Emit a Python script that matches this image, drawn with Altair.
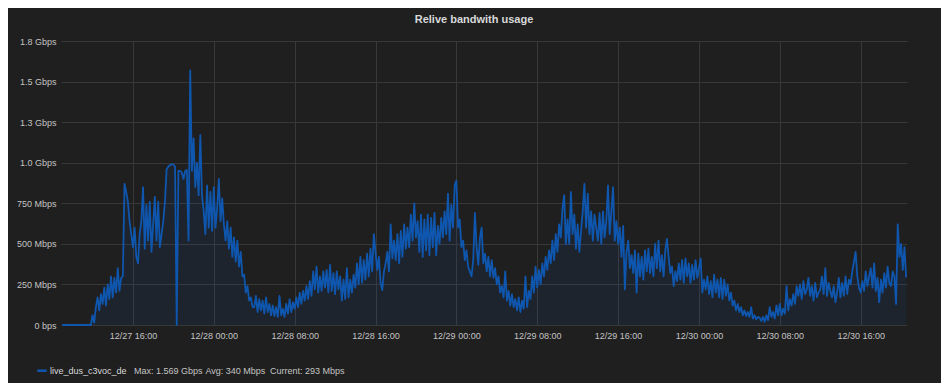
import altair as alt
import pandas as pd

# ---------------- data (Mbps, one value every 10 minutes) ----------------
series_name = "live_dus_c3voc_de"
series_start = "2016-12-27 09:00"
series_step = "10min"

day27 = [  # 09:00 .. 23:50
    0, 0, 0, 0, 0, 0,
    0, 0, 0, 0, 0, 0,
    0, 0, 0, 0, 0, 0,
    60, 15, 110, 170, 90, 190,
    130, 230, 120, 250, 160, 300,
    170, 290, 200, 350, 210, 290,
    300, 870, 820, 760, 640, 560,
    480, 600, 420, 380, 560, 640,
    850, 470, 740, 520, 760, 450,
    620, 790, 520, 760, 480, 560,
    640, 760, 960, 975, 985, 990,
    990, 975, 0, 950, 950, 940,
    900, 950, 955, 520, 1569, 950,
    1150, 850, 1000, 800, 1170, 800,
    700, 560, 860, 600, 820, 580,
]
day28 = [
    850, 600, 720, 900, 640, 780,
    620, 520, 640, 470, 600, 420,
    540, 390, 520, 360, 450, 300,
    310, 200, 240, 150, 170, 110,
    110, 180, 80, 160, 90, 150,
    70, 170, 80, 130, 60, 120,
    55, 110, 50, 180, 60, 100,
    50, 130, 70, 160, 80, 140,
    100, 170, 110, 200, 130, 210,
    150, 240, 160, 270, 180, 330,
    220, 360, 200, 300, 210, 330,
    230, 340, 200, 370, 210, 320,
    190, 330, 220, 300, 150, 280,
    160, 350, 170, 280, 200, 310,
    230, 380, 250, 420, 260, 400,
    280, 440, 300, 470, 330, 560,
    450, 340, 420, 260, 215, 330,
    380, 450, 330, 620, 410, 520,
    400, 560, 380, 580, 420, 620,
    470, 600, 480, 680, 520, 750,
    540, 640, 450, 680, 420, 650,
    460, 680, 430, 660, 480, 690,
    430, 610, 500, 660, 540, 700,
    560, 810, 520, 740, 600, 860,
]
day29 = [
    890, 600, 650, 480, 520, 400,
    460, 360, 330, 300, 400, 690,
    480, 370, 540, 600, 380, 440,
    330, 420, 300, 400, 290, 350,
    250, 300, 200, 240, 170, 330,
    150, 210, 120, 190, 110, 160,
    90, 170, 80, 150, 100, 300,
    110, 210, 160, 300, 200, 360,
    230, 340, 250, 380, 300, 420,
    340, 460, 380, 520, 400, 560,
    450, 620, 540, 720, 800, 500,
    650, 500, 820, 560, 680, 470,
    620, 450, 580, 700, 870, 600,
    810, 560, 700, 520, 680, 600,
    520, 690, 500, 700, 540, 640,
    860, 560, 700, 850, 520, 640,
    500, 600, 420, 610, 220, 450,
    520, 350, 430, 320, 460, 200,
    440, 300, 420, 280, 460, 330,
    470, 320, 420, 300, 500, 350,
    520, 330, 430, 300, 460, 530,
    420, 320, 360, 240, 330, 270,
    380, 280, 400, 260, 410, 300,
    380, 260, 370, 280, 400, 290,
]
day30 = [  # 00:00 .. 20:30
    350, 410, 200, 280, 220, 300,
    190, 270, 170, 310, 200, 280,
    170, 290, 160, 280, 180, 250,
    150, 200, 120, 150, 90, 130,
    80, 110, 60, 90, 55, 80,
    50, 110, 40, 60, 35, 50,
    45, 25, 50, 20, 60, 30,
    110, 50, 80, 40, 120, 60,
    130, 60, 100, 70, 240, 90,
    160, 120, 190, 130, 240, 180,
    250, 160, 270, 190, 220, 290,
    180, 240, 150, 260, 170, 200,
    220, 300, 190, 350, 180, 260,
    210, 170, 240, 140, 200, 290,
    170, 260, 180, 300, 190, 280,
    250, 330, 390, 450, 300, 230,
    200, 270, 210, 330, 240, 300,
    350, 230, 380, 210, 290, 140,
    280, 200, 320, 230, 360, 260,
    240, 330, 300, 130, 620, 420,
    500, 340, 480, 293,
]

legend_stats = ["Max: 1.569 Gbps", "Avg: 340 Mbps", "Current: 293 Mbps"]
chart_title = "Relive bandwith usage"

y_ticks = [0, 250, 500, 750, 1000, 1250, 1500, 1750]
y_labels = ["0 bps", "250 Mbps", "500 Mbps", "750 Mbps",
            "1.0 Gbps", "1.3 Gbps", "1.5 Gbps", "1.8 Gbps"]
x_ticks = ["2016-12-27 16:00", "2016-12-28 00:00", "2016-12-28 08:00",
           "2016-12-28 16:00", "2016-12-29 00:00", "2016-12-29 08:00",
           "2016-12-29 16:00", "2016-12-30 00:00", "2016-12-30 08:00",
           "2016-12-30 16:00"]
x_domain = ["2016-12-27 08:53", "2016-12-30 20:35"]

# ---------------- build ----------------
values = day27 + day28 + day29 + day30
df = pd.DataFrame({
    "time": pd.date_range(series_start, periods=len(values), freq=series_step),
    "mbps": values,
})


def dt(s):
    t = pd.Timestamp(s)
    return alt.DateTime(year=t.year, month=t.month, date=t.day,
                        hours=t.hour, minutes=t.minute)


BLUE = "#0f56ae"
BG = "#1f1f1f"
GRID = "#383838"
LABEL = "#c4c4c4"
TEXT = "#d8d9da"
FONT = "Liberation Sans"

y_label_expr = " : ".join(
    f"datum.value == {v} ? '{l}'" for v, l in zip(y_ticks, y_labels)
) + " : ''"

x_enc = alt.X(
    "time:T",
    scale=alt.Scale(domain=[dt(s) for s in x_domain], nice=False),
    axis=alt.Axis(
        values=[dt(s) for s in x_ticks], format="%m/%d %H:%M", title=None,
        grid=True, gridColor=GRID, gridWidth=1, domain=False, ticks=False,
        labelColor=LABEL, labelFont=FONT, labelFontSize=9, labelPadding=6,
        labelFlush=False, labelOverlap=False,
    ),
)
y_enc = alt.Y(
    "mbps:Q",
    scale=alt.Scale(domain=[0, 1750], nice=False, zero=True),
    axis=alt.Axis(
        values=y_ticks, labelExpr=y_label_expr, title=None,
        grid=True, gridColor=GRID, gridWidth=1, domain=False, ticks=False,
        labelColor=LABEL, labelFont=FONT, labelFontSize=9, labelPadding=5,
    ),
)

base = alt.Chart(df).encode(x=x_enc, y=y_enc)
area = base.mark_area(color=BLUE, opacity=0.1)
line = base.mark_line(color=BLUE, strokeWidth=1.8, strokeJoin="round")

one = pd.DataFrame({"k": [0]})
title_txt = alt.Chart(one).mark_text(
    align="center", baseline="middle", font=FONT, fontSize=11,
    fontWeight="bold", color=TEXT,
).encode(x=alt.value(413), y=alt.value(-21), text=alt.value(chart_title))

leg_y = 329.7
leg_line = alt.Chart(one).mark_rule(color=BLUE, strokeWidth=2.5).encode(
    x=alt.value(-23.7), x2=alt.value(-14.3), y=alt.value(leg_y))
leg_name = alt.Chart(one).mark_text(
    align="left", baseline="middle", font=FONT, fontSize=9, color=TEXT,
).encode(x=alt.value(-11), y=alt.value(leg_y), text=alt.value(series_name))
stat_x = [73, 144.5, 209]
leg_stats = [
    alt.Chart(one).mark_text(
        align="left", baseline="middle", font=FONT, fontSize=9, color=LABEL,
    ).encode(x=alt.value(sx), y=alt.value(leg_y), text=alt.value(s))
    for sx, s in zip(stat_x, legend_stats)
]

chart = alt.layer(area, line, title_txt, leg_line, leg_name, *leg_stats).properties(
    width=846, height=284,
    background=BG,
    padding={"left": 53, "top": 33, "right": 34, "bottom": 58},
    autosize=alt.AutoSizeParams(type="none"),
).configure_view(strokeWidth=0)

chart.save("out.html", embed_options={"renderer": "svg", "actions": False})
